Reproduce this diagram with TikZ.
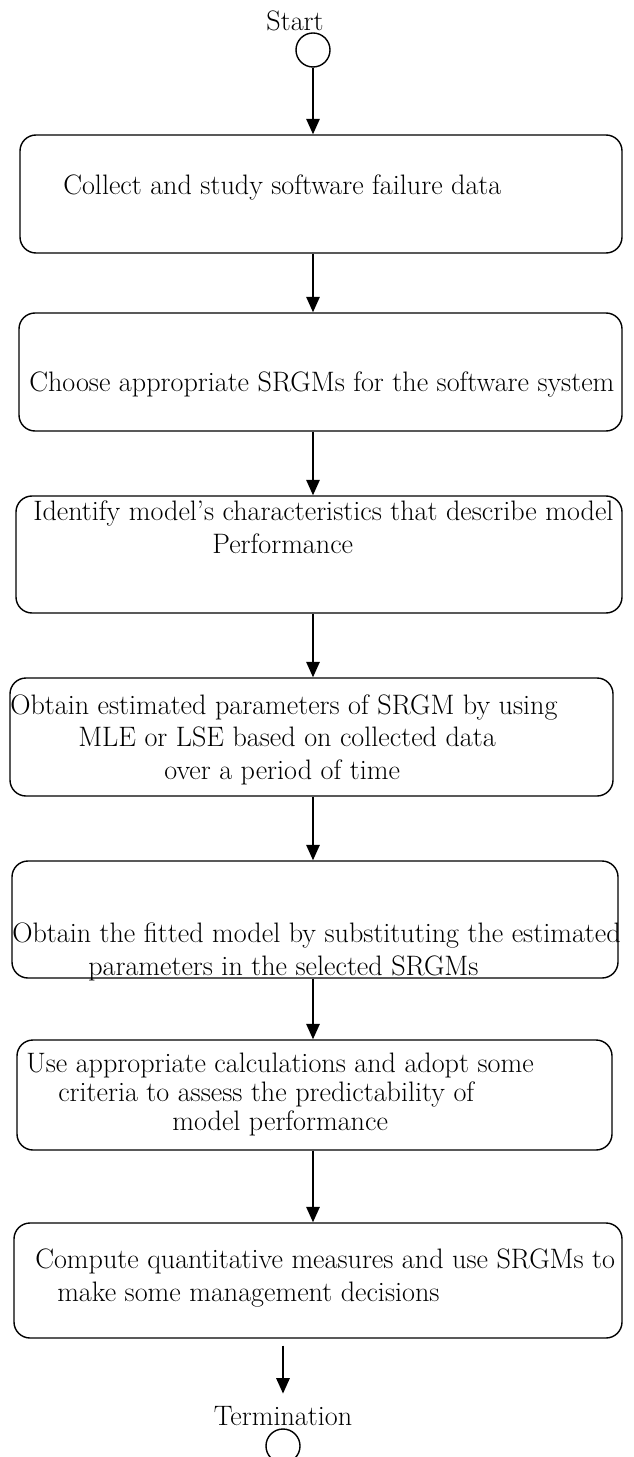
\documentclass[tikz,border=0pt]{standalone}
\usetikzlibrary{arrows.meta,positioning,fit}

\begin{document}
\begin{tikzpicture}[
    x=0.025cm, y=-0.025cm,
    font=\fontsize{20}{22.8}\selectfont,
    stepbox/.style={rectangle, draw, line width=1pt, rounded corners=0.4cm, inner sep=0pt},
    linetext/.style={anchor=base west, inner sep=0pt, align=left},
    endlabel/.style={anchor=base, inner sep=0pt},
    endcircle/.style={circle, draw, line width=1pt, minimum size=0.85cm, inner sep=0pt},
    arrow/.style={-{Triangle[width=9.5pt,length=11pt]}, line width=1.3pt}
]
    \useasboundingbox (0,0) rectangle (633,1457);

    % start and end markers
    \node[endlabel] (startlbl) at (295,31) {Start};
    \node[endcircle] (start) at (313,50) {};
    \node[endlabel] (stoplbl) at (283,1425) {Termination};
    \node[endcircle] (stop) at (283,1446) {};

    % process boxes
    \node[stepbox, fit={(20,135) (622,253)}] (b1) {};
    \node[stepbox, fit={(19,313) (622,431)}] (b2) {};
    \node[stepbox, fit={(16,496) (622,613)}] (b3) {};
    \node[stepbox, fit={(10,678) (613,796)}] (b4) {};
    \node[stepbox, fit={(12,861) (618,978)}] (b5) {};
    \node[stepbox, fit={(17,1040) (612,1150)}] (b6) {};
    \node[stepbox, fit={(14,1223) (622,1338)}] (b7) {};

    % box texts (placed at the baseline of their last line)
    \node[linetext] (t1) at (63,195) {Collect and study software failure data};
    \node[linetext] (t2) at (29,391) {Choose appropriate SRGMs for the software system};
    \node[linetext] (t3) at (33,553) {Identify model's characteristics that describe model\\
        \hspace*{4.475cm}Performance};
    \node[linetext] (t4) at (10,779) {Obtain estimated parameters of SRGM by using\\
        \hspace*{1.7cm}MLE or LSE based on collected data\\
        \hspace*{3.85cm}over a period of time};
    \node[linetext] (t5) at (12,975) {Obtain the fitted model by substituting the estimated\\
        \hspace*{1.9cm}parameters in the selected SRGMs};
    \node[linetext, font=\fontsize{20}{20.3}\selectfont] (t6) at (26,1130) {Use appropriate calculations and adopt some\\
        \hspace*{0.8cm}criteria to assess the predictability of\\
        \hspace*{3.65cm}model performance};
    \node[linetext] (t7) at (35,1301) {Compute quantitative measures and use SRGMs to\\
        \hspace*{0.55cm}make some management decisions};

    % connectors
    \draw[arrow] (start) -- (start |- b1.north);
    \draw[arrow] (b1.south -| start) -- (b2.north -| start);
    \draw[arrow] (b2.south -| start) -- (b3.north -| start);
    \draw[arrow] (b3.south -| start) -- (b4.north -| start);
    \draw[arrow] (b4.south -| start) -- (b5.north -| start);
    \draw[arrow] (b5.south -| start) -- (b6.north -| start);
    \draw[arrow] (b6.south -| start) -- (b7.north -| start);
    \draw[arrow, shorten <=0.175cm, shorten >=0.3cm] (b7.south -| stop) -- (stoplbl.north);
\end{tikzpicture}
\end{document}
